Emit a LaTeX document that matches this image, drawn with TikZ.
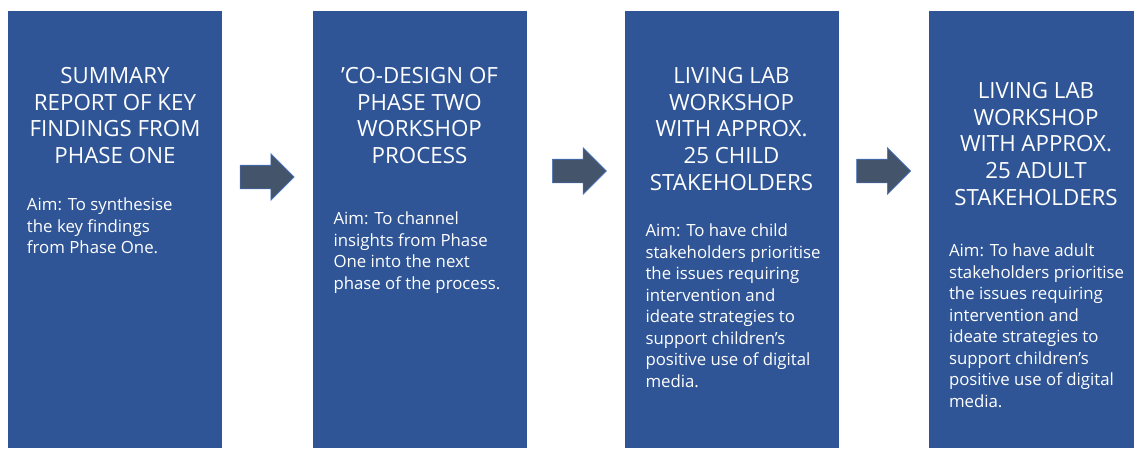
\documentclass[tikz,border=0pt]{standalone}
\usepackage{xcolor}
\usepackage{fontspec}
\setmainfont{Open Sans}
\usepackage{tikz}
\usetikzlibrary{shapes.arrows,calc}
\definecolor{stageblue}{HTML}{2F5597}
\definecolor{arrowgray}{HTML}{44546A}
\definecolor{arrowedge}{HTML}{4472C4}

\begin{document}
\begin{tikzpicture}[
    x=1pt, y=1pt,
    node distance=304.5pt,
    stage/.style={rectangle, fill=stageblue, draw=none,
                  minimum width=214pt, minimum height=437pt,
                  inner sep=0pt, anchor=north},
    heading/.style={text=white, align=center, inner sep=0pt, anchor=north,
                    font=\fontsize{22.3}{26.8}\selectfont},
    aim/.style={text=white, align=left, inner sep=0pt, anchor=north west,
                font=\fontsize{16.8}{21.5}\selectfont},
    flowarrow/.style={single arrow, fill=arrowgray, draw=arrowedge,
                      line width=0.6pt, inner xsep=0pt, inner ysep=11.5pt,
                      minimum height=54pt,
                      single arrow head extend=11.5pt}
]
\useasboundingbox (0,0) rectangle (1134,-448);

% the four stages
\node[stage] (summary) at (115,-11) {};
\node[stage] (codesign) [right of=summary] {};
\node[stage] (childlab) [right of=codesign, xshift=7.5pt] {};
\node[stage] (adultlab) [right of=childlab] {};

% headings
\node[heading] (summaryHead) at ([yshift=-56pt]summary.north)
    {SUMMARY\\REPORT OF KEY\\FINDINGS FROM\\PHASE ONE};
\node[heading] (codesignHead) at ([yshift=-56pt]codesign.north)
    {’CO-DESIGN OF\\PHASE TWO\\WORKSHOP\\PROCESS};
\node[heading] (childlabHead) at ([yshift=-56pt]childlab.north)
    {LIVING LAB\\WORKSHOP\\WITH APPROX.\\25 CHILD\\STAKEHOLDERS};
\node[heading] (adultlabHead) at ([yshift=-71pt]adultlab.north)
    {LIVING LAB\\WORKSHOP\\WITH APPROX.\\25 ADULT\\STAKEHOLDERS};

% aims
\node[aim] (summaryAim) at ([xshift=19pt, yshift=-187pt]summary.north west)
    {Aim: To synthesise\\the key findings\\from Phase One.};
\node[aim] (codesignAim) at ([xshift=21pt, yshift=-201pt]codesign.north west)
    {Aim: To channel\\insights from Phase\\One into the next\\phase of the process.};
\node[aim] (childlabAim) at ([xshift=21pt, yshift=-213pt]childlab.north west)
    {Aim: To have child\\stakeholders prioritise\\the issues requiring\\intervention and\\ideate strategies to\\support children’s\\positive use of digital\\media.};
\node[aim] (adultlabAim) at ([xshift=20pt, yshift=-233pt]adultlab.north west)
    {Aim: To have adult\\stakeholders prioritise\\the issues requiring\\intervention and\\ideate strategies to\\support children’s\\positive use of digital\\media.};

% block arrows between the stages (centre sits on the shaft, so pull back a bit)
\node[flowarrow] (arrowA) at ($(summary.north east)!0.5!(codesign.north west)+(-6,-166)$) {};
\node[flowarrow] (arrowB) at ($(codesign.north east)!0.5!(childlab.north west)+(-2,-160)$) {};
\node[flowarrow] (arrowC) at ($(childlab.north east)!0.5!(adultlab.north west)+(-6,-160)$) {};
\end{tikzpicture}
\end{document}
